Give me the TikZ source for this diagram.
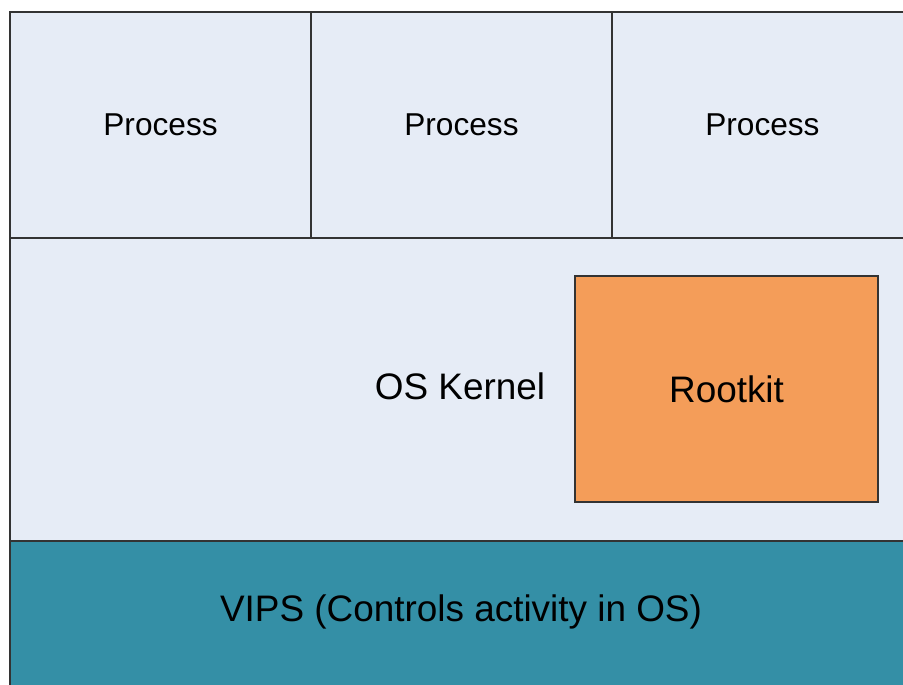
\documentclass[tikz,border=0pt]{standalone}
\usepackage{fontspec}
\setmainfont{Liberation Sans}
\usetikzlibrary{positioning}
\definecolor{paleblue}{HTML}{E6ECF6}
\definecolor{rootorange}{HTML}{F49D59}
\definecolor{vipsteal}{HTML}{348FA6}
\definecolor{edgegray}{HTML}{333333}
\begin{document}
\begin{tikzpicture}[x=0.02cm,y=-0.02cm,
    layer/.style={draw=edgegray, line width=1.2pt, fill=paleblue, inner sep=0pt,
      font=\fontsize{21}{24}\selectfont},
    proc/.style={layer, minimum width=6.02cm, minimum height=4.52cm,
      font=\fontsize{18}{21}\selectfont}]
  \useasboundingbox (0,0) rectangle (903,685);
  \clip (0,0) rectangle (903,685);
  \node(Proc1) [proc, anchor=north west] at (9,11) {Process};
  \node(Proc2) [proc, right=-1.2pt of Proc1] {Process};
  \node(Proc3) [proc, right=-1.2pt of Proc2] {Process};
  \node(Kernel) [layer, anchor=north west, minimum width=18cm, minimum height=6.06cm] at (9,237) {};
  \node(KernelLabel) [font=\fontsize{21}{24}\selectfont] at (460,386) {OS Kernel};
  \node(Rootkit) [layer, fill=rootorange, anchor=north west, minimum width=6.06cm, minimum height=4.52cm] at (574,275) {Rootkit};
  \node(Vips) [layer, fill=vipsteal, anchor=north west, minimum width=18cm, minimum height=3cm] at (9,540) {};
  \node(VipsLabel) [font=\fontsize{21}{24}\selectfont] at (461,612) {VIPS (Controls activity in OS)};
\end{tikzpicture}
\end{document}
